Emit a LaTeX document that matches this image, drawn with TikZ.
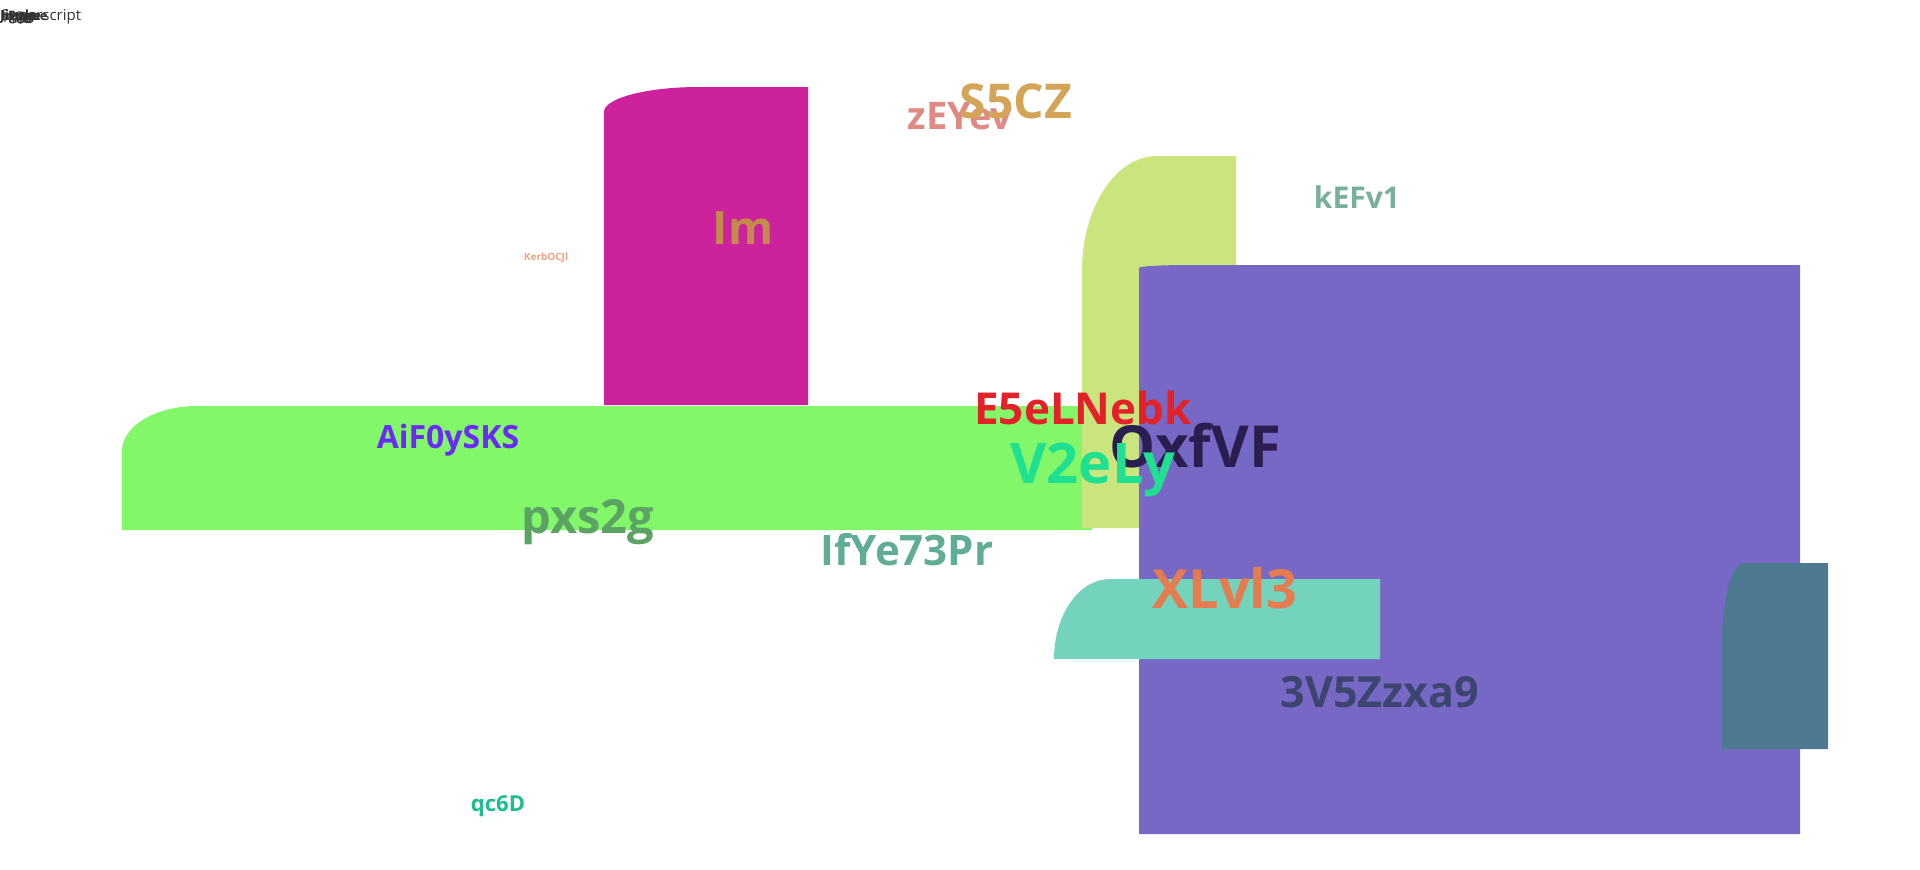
\documentclass[tikz,border=0pt]{standalone}
\usepackage{fontspec}
\setmainfont{Open Sans}
\definecolor{cgreen}{HTML}{82F76A}
\definecolor{cmag}{HTML}{CC239D}
\definecolor{cyg}{HTML}{CAE47E}
\definecolor{cpur}{HTML}{7668C4}
\definecolor{cteal}{HTML}{74D3BC}
\definecolor{csteel}{HTML}{4D7A91}
\definecolor{tIm}{HTML}{C48A4E}
\definecolor{tZe}{HTML}{E08A84}
\definecolor{tS5}{HTML}{D4A458}
\definecolor{tKe}{HTML}{79B09A}
\definecolor{tKb}{HTML}{F5A080}
\definecolor{tAi}{HTML}{6A2BF5}
\definecolor{tPx}{HTML}{5BA363}
\definecolor{tIf}{HTML}{5FAD94}
\definecolor{tE5}{HTML}{E32128}
\definecolor{tOx}{HTML}{2A1E50}
\definecolor{tV2}{HTML}{1FE090}
\definecolor{tXL}{HTML}{E47C50}
\definecolor{t3V}{HTML}{3B4570}
\definecolor{tqc}{HTML}{1BBE8F}
\begin{document}
\begin{tikzpicture}[x=1pt,y=-1pt,
  lbl/.style={inner sep=0pt},
  tl/.style={inner sep=0pt, anchor=west, text=black!80, font=\fontsize{15}{15}\selectfont}]
\useasboundingbox[fill=white] (0,0) rectangle (1920,870);
% shapes
\fill[cgreen] (122,451) .. controls (122,426.1) and (155.6,406) .. (197,406) -- (1092,406) -- (1092,530) -- (122,530) -- cycle;
\fill[cmag] (604,112) .. controls (604,98.2) and (646.5,87) .. (699,87) -- (808,87) -- (808,405) -- (604,405) -- cycle;
\fill[cyg] (1082,271) .. controls (1082,207.5) and (1115.6,156) .. (1157,156) -- (1236,156) -- (1236,528) -- (1082,528) -- cycle;
\fill[cpur] (1139,268) .. controls (1139,266.3) and (1161.4,265) .. (1189,265) -- (1800,265) -- (1800,834) -- (1139,834) -- cycle;
\fill[cteal] (1054,659) .. controls (1054,614.8) and (1079,579) .. (1110,579) -- (1380,579) -- (1380,659) -- cycle;
\fill[csteel] (1722,647) .. controls (1722,600.6) and (1731.4,563) .. (1743,563) -- (1828,563) -- (1828,749) -- (1722,749) -- cycle;
% top-left overlapping labels
\node[tl] (t1) at (1,17) {Superscript};
\node[tl,font=\bfseries\fontsize{14}{14}\selectfont] (t2) at (0,17) {Jiggle};
\node[tl,font=\fontsize{14}{14}\selectfont] (t3) at (3,17) {Kifle};
\node[tl,font=\bfseries\fontsize{13}{13}\selectfont] (t4) at (1,17) {Image};
\node[tl,font=\bfseries\fontsize{13}{13}\selectfont] (t5) at (8,17) {Fugue};
% labels
\node[lbl,text=tIm,font=\bfseries\fontsize{46}{46}\selectfont] (im) at (743,228) {Im};
\node[lbl,text=tZe,font=\bfseries\fontsize{38}{38}\selectfont] (zeyev) at (960,116) {zEYev};
\node[lbl,text=tS5,font=\bfseries\fontsize{48}{48}\selectfont] (s5cz) at (1016,101) {S5CZ};
\node[lbl,text=tKe,font=\bfseries\fontsize{30}{30}\selectfont] (kefv) at (1357,197) {kEFv1};
\node[lbl,text=tKb,font=\bfseries\fontsize{10}{10}\selectfont] (kerb) at (546,258) {KerbOCJl};
\node[lbl,text=tAi,font=\bfseries\fontsize{32}{32}\selectfont] (aif) at (448,440) {AiF0ySKS};
\node[lbl,text=tPx,font=\bfseries\fontsize{47}{47}\selectfont] (pxs) at (588,522) {pxs2g};
\node[lbl,text=tIf,font=\bfseries\fontsize{42}{42}\selectfont] (ify) at (907,550) {IfYe73Pr};
\node[lbl,text=tE5,font=\bfseries\fontsize{44}{44}\selectfont] (e5e) at (1083,408) {E5eLNebk};
\node[lbl,text=tOx,font=\bfseries\fontsize{58}{58}\selectfont] (oxf) at (1195,446) {OxfVF};
\node[lbl,text=tV2,font=\bfseries\fontsize{56}{56}\selectfont] (v2e) at (1093,470) {V2eLy};
\node[lbl,text=tXL,font=\bfseries\fontsize{54}{54}\selectfont] (xlv) at (1225,588) {XLvl3};
\node[lbl,text=t3V,font=\bfseries\fontsize{43}{43}\selectfont] (v5z) at (1380,692) {3V5Zzxa9};
\node[lbl,text=tqc,font=\bfseries\fontsize{22}{22}\selectfont] (qc6) at (498,806) {qc6D};
\end{tikzpicture}
\end{document}
